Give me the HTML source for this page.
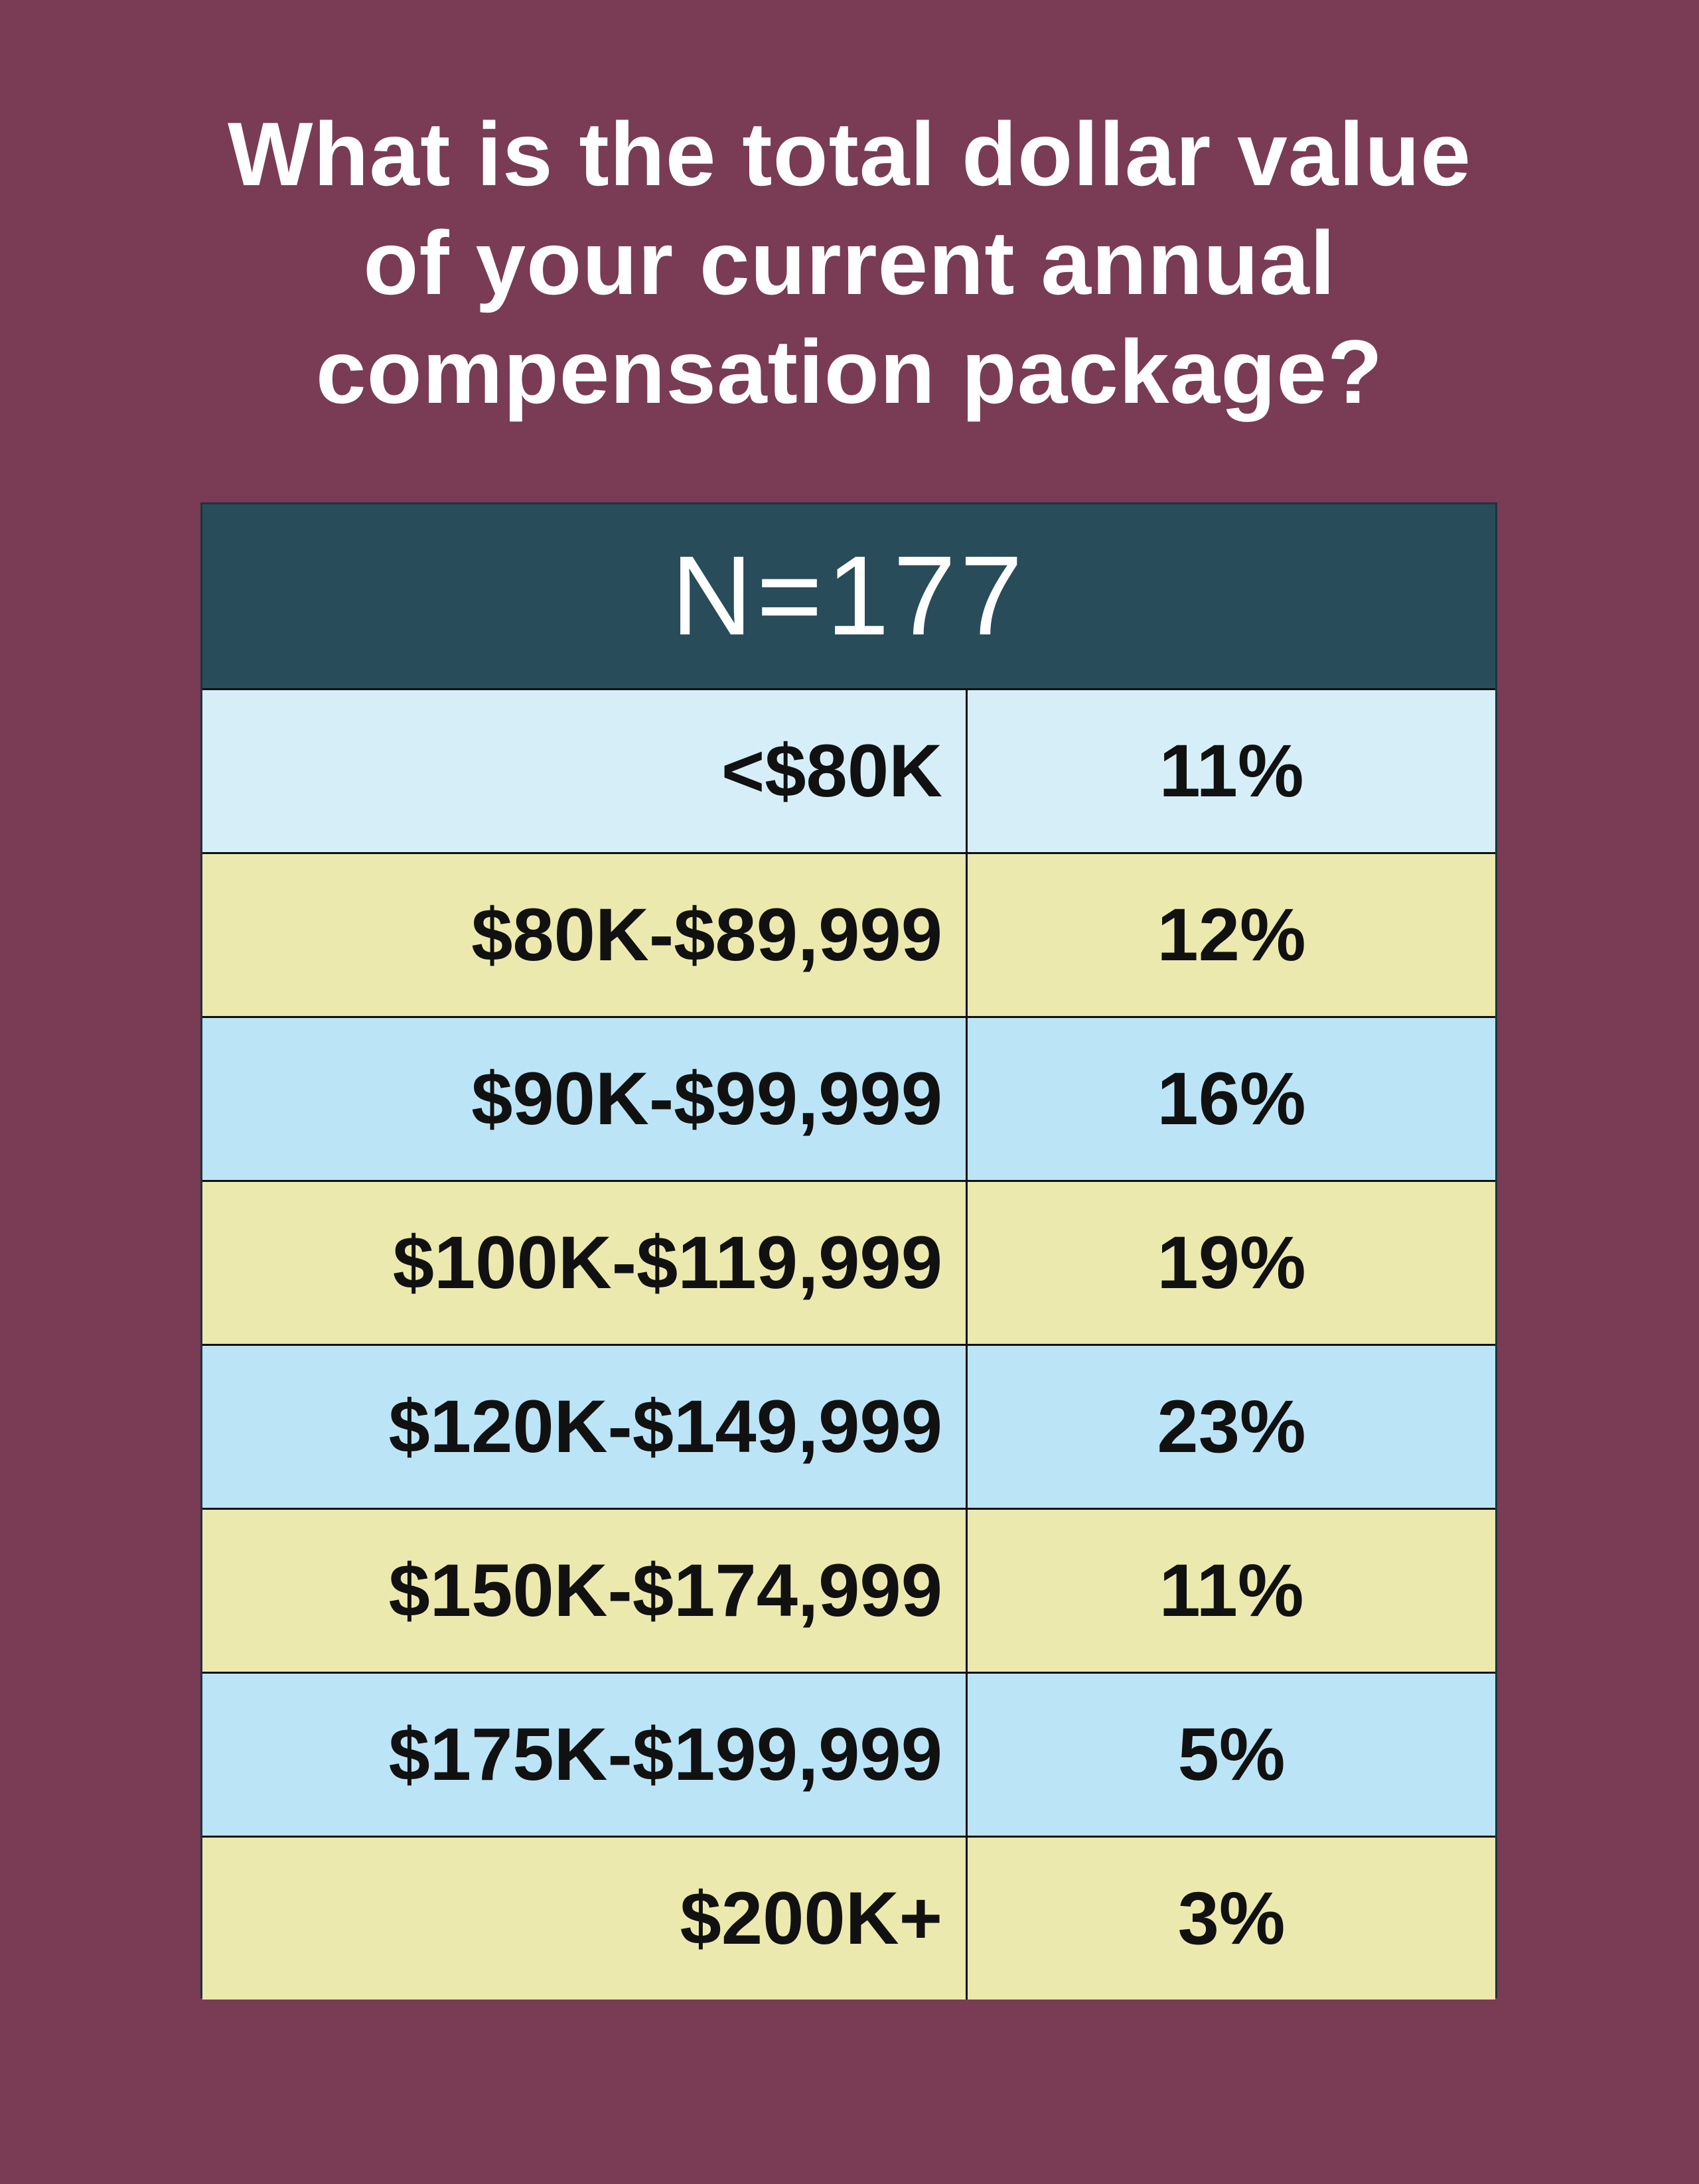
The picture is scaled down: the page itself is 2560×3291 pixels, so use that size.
<!DOCTYPE html>
<html><head><meta charset="utf-8">
<style>
html,body{margin:0;padding:0}
body{width:2560px;height:3291px;background:#7a3b55;position:relative;overflow:hidden;font-family:"Liberation Sans",sans-serif}
#title{position:absolute;left:0;top:150px;width:2560px;text-align:center;color:#fff;font-weight:bold;font-size:136px;line-height:164px;letter-spacing:1px}
#tbl{position:absolute;left:302px;top:757px;width:1954px;height:2254px;border:3px solid #1a3540;box-sizing:border-box;background:#284c5a}
#hdr{position:absolute;left:0;top:0;width:100%;height:277px;color:#fff;font-size:170px;text-align:center;line-height:277px;letter-spacing:6px}
.row{position:absolute;left:0;width:100%;height:247px;border-top:3px solid #111;box-sizing:border-box}
.lab{position:absolute;left:0;top:0;width:1153px;height:100%;text-align:right;padding-right:35px;box-sizing:border-box;border-right:3px solid #111;font-size:112px;font-weight:bold;line-height:244px;color:#111}
.val{position:absolute;left:1153px;right:0;top:0;height:100%;text-align:center;font-size:112px;font-weight:bold;line-height:244px;color:#111}
</style></head><body>
<div id="title">What is the total dollar value<br>of your current annual<br>compensation package?</div>
<div id="tbl">
<div id="hdr">N=177</div>
</div>
<script>
const categories=["<$80K","$80K-$89,999","$90K-$99,999","$100K-$119,999","$120K-$149,999","$150K-$174,999","$175K-$199,999","$200K+"];
const values=[11,12,16,19,23,11,5,3];
const tbl=document.getElementById('tbl');
const colors=["#d6eef7","#ece9ae","#bbe5f7","#ece9ae","#bbe5f7","#ece9ae","#bbe5f7","#ece9ae"];
categories.forEach((c,i)=>{
  const r=document.createElement('div');
  r.className='row';
  
  
  r.style.top=(277+i*247)+'px';
  r.style.background=colors[i%colors.length];
  const l=document.createElement('div');
  l.className='lab';
  
  
  l.textContent=c;
  const v=document.createElement('div');
  v.className='val';
  
  
  v.textContent=values[i]+'%';
  r.appendChild(l);r.appendChild(v);tbl.appendChild(r);
});
</script>
</body></html>
